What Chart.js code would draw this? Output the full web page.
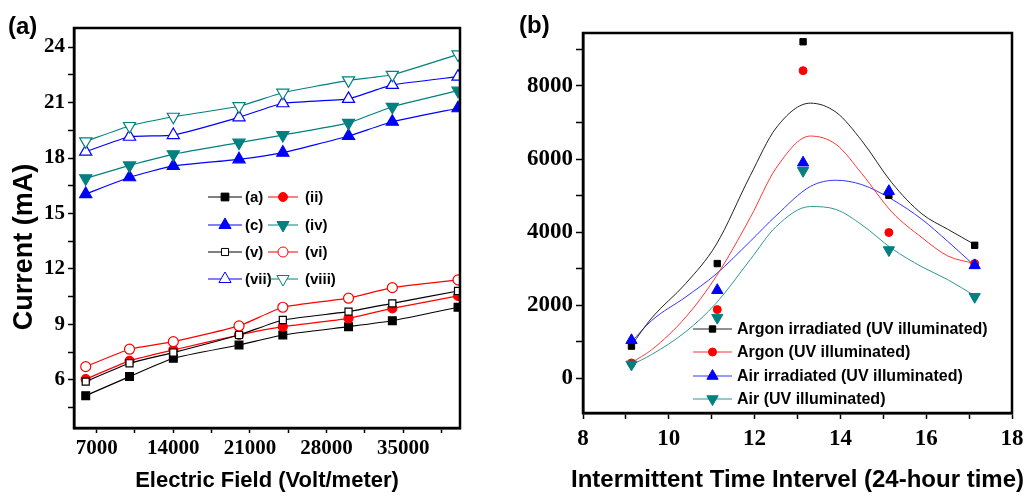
<!DOCTYPE html>
<html lang="en">
<head>
    <meta charset="UTF-8">
    <title>Current vs Electric Field / Intermittent Time Interval</title>
    <script src="https://cdn.jsdelivr.net/npm/chart.js"></script>
    <style>
        body { margin: 0; background: #fff; }
        .wrap { position: relative; width: 1033px; height: 499px; }
        canvas { position: absolute; top: 0; }
    </style>
</head>
<body>
<div class="wrap">
    <canvas id="fieldChart" width="475" height="499" style="left:0"></canvas>
    <canvas id="timeChart" width="518" height="499" style="left:515px"></canvas>
</div>
<script>
// ---- panel (a) data: current (mA) vs electric field (V/m)
const fieldX = [6000, 10000, 14000, 20000, 24000, 30000, 34000, 40000];
const curA    = [5.15, 6.18, 7.17, 7.89, 8.43, 8.88, 9.20, 9.93];
const curII   = [6.04, 7.03, 7.62, 8.43, 8.88, 9.33, 9.87, 10.54];
const curC    = [16.05, 16.96, 17.57, 17.93, 18.29, 19.19, 19.96, 20.69];
const curIV   = [16.9, 17.6, 18.2, 18.83, 19.24, 19.9, 20.77, 21.64];
const curV    = [5.91, 6.9, 7.48, 8.43, 9.24, 9.69, 10.14, 10.81];
const curVI   = [6.72, 7.66, 8.07, 8.92, 9.93, 10.42, 10.99, 11.41];
const curVII  = [18.34, 19.15, 19.24, 20.2, 20.96, 21.2, 21.95, 22.4];
const curVIII = [18.9, 19.73, 20.23, 20.8, 21.53, 22.2, 22.5, 23.6];

// tick positions (majors get labels, the rest are minor marks)
const fieldTicks   = [7000, 10500, 14000, 17500, 21000, 24500, 28000, 31500, 35000, 38500];
const currentTicks = [4.5, 6, 7.5, 9, 10.5, 12, 13.5, 15, 16.5, 18, 19.5, 21, 22.5, 24];

// ---- panel (b) data: measured points and fitted curves vs time of day
const timeX     = [9.13, 11.13, 13.13, 15.13, 17.13];
const argonIrr  = [880, 3140, 9210, 5010, 3640];
const argon     = [420, 1880, 8420, 3990, 3140];
const airIrr    = [1040, 2410, 5900, 5120, 3090];
const air       = [380, 1660, 5680, 3510, 2230];

const fitX         = [9.13, 9.6, 10.4, 11.1, 11.9, 12.5, 13.3, 13.9, 14.5, 15.2, 15.9, 16.5, 17.13];
const fitArgonIrr  = [900, 1650, 2600, 3650, 5550, 6850, 7530, 7280, 6500, 5350, 4500, 4080, 3660];
const fitArgon     = [430, 780, 1680, 2780, 4400, 5750, 6630, 6400, 5600, 4550, 3850, 3350, 3140];
const fitAirIrr    = [1000, 1580, 2230, 2850, 3750, 4450, 5250, 5420, 5300, 4900, 4350, 3750, 3080];
const fitAir       = [370, 650, 1280, 2050, 3250, 4150, 4700, 4620, 4200, 3550, 3050, 2700, 2260];

const timeTicks  = [8, 9, 10, 11, 12, 13, 14, 15, 16, 17, 18];
const countTicks = [0, 1000, 2000, 3000, 4000, 5000, 6000, 7000, 8000, 9000];

const BLACK = '#000000', RED = '#ff0000', BLUE = '#0000ff', TEAL = '#008080';
const SANS = "'Liberation Sans', Arial, sans-serif";
const SERIF = "'Liberation Serif', 'Times New Roman', serif";

function pts(xs, ys) { return xs.map((x, i) => ({ x: x, y: ys[i] })); }
function fixedTicks(values) { return s => { s.ticks = values.map(v => ({ value: v })); }; }

// frame, free texts and an in-plot legend
const extras = {
    id: 'extras',
    afterDraw(chart, args, opts) {
        const ctx = chart.ctx, a = chart.chartArea;
        ctx.save();
        ctx.lineWidth = opts.frameWidth || 2.5;
        ctx.strokeStyle = '#000';
        ctx.strokeRect(a.left, a.top, a.right - a.left, a.bottom - a.top);

        (opts.texts || []).forEach(t => {
            ctx.save();
            ctx.font = t.font;
            ctx.fillStyle = '#000';
            ctx.textAlign = t.align || 'center';
            ctx.textBaseline = 'middle';
            const x = t.x === 'mid' ? (a.left + a.right) / 2 : t.x;
            ctx.translate(x, t.y);
            if (t.rotate) ctx.rotate(t.rotate);
            ctx.fillText(t.text, 0, 0);
            ctx.restore();
        });

        const lg = opts.legend;
        if (lg) {
            lg.items.forEach(it => {
                const line = chart.data.datasets[it.line];
                const mark = chart.data.datasets[it.mark];
                const col = lg.cols[it.col];
                const y = lg.rows[it.row];
                ctx.strokeStyle = line.borderColor;
                ctx.lineWidth = 1;
                ctx.beginPath();
                ctx.moveTo(col.x0, y);
                ctx.lineTo(col.x1, y);
                ctx.stroke();
                ctx.fillStyle = mark.pointBackgroundColor;
                ctx.strokeStyle = mark.pointBorderColor;
                Chart.helpers.drawPoint(ctx, {
                    pointStyle: mark.pointStyle,
                    rotation: mark.pointRotation || 0,
                    radius: mark.pointRadius,
                    borderWidth: mark.pointBorderWidth
                }, (col.x0 + col.x1) / 2, y);
                ctx.fillStyle = '#000';
                ctx.font = lg.font;
                ctx.textAlign = 'left';
                ctx.textBaseline = 'middle';
                ctx.fillText(mark.label, col.tx, y + 1);
            });
        }
        ctx.restore();
    }
};

function fieldSeries(label, ys, color, style, filled, radius, rotation, order) {
    return {
        label: label,
        data: pts(fieldX, ys),
        borderColor: color,
        borderWidth: 1.2,
        tension: 0.15,
        pointStyle: style,
        pointRotation: rotation,
        pointRadius: radius,
        pointBorderWidth: 1.2,
        pointBackgroundColor: filled ? color : '#ffffff',
        pointBorderColor: color,
        order: order
    };
}

new Chart(document.getElementById('fieldChart'), {
    type: 'line',
    data: {
        datasets: [
            fieldSeries('(a)', curA, BLACK, 'rect', true, 5.5, 0, 8),
            fieldSeries('(ii)', curII, RED, 'circle', true, 4.5, 0, 7),
            fieldSeries('(c)', curC, BLUE, 'triangle', true, 7, 0, 6),
            fieldSeries('(iv)', curIV, TEAL, 'triangle', true, 7, 180, 5),
            fieldSeries('(v)', curV, BLACK, 'rect', false, 5, 0, 4),
            fieldSeries('(vi)', curVI, RED, 'circle', false, 5, 0, 3),
            fieldSeries('(vii)', curVII, BLUE, 'triangle', false, 7, 0, 2),
            fieldSeries('(viii)', curVIII, TEAL, 'triangle', false, 7, 180, 1)
        ]
    },
    options: {
        responsive: false,
        animation: false,
        layout: { padding: { top: 28, right: 15, left: 0, bottom: 0 } },
        plugins: {
            legend: { display: false },
            tooltip: { enabled: false },
            extras: {
                frameWidth: 2.5,
                texts: [
                    { text: '(a)', x: 8, y: 27, align: 'left', font: 'bold 24px ' + SANS },
                    { text: 'Current (mA)', x: 25, y: 247, rotate: -Math.PI / 2, font: 'bold 27px ' + SANS },
                    { text: 'Electric Field (Volt/meter)', x: 'mid', y: 481, font: 'bold 22px ' + SANS }
                ],
                legend: {
                    font: 'bold 15px ' + SANS,
                    cols: [{ x0: 208, x1: 242, tx: 245 }, { x0: 268, x1: 298, tx: 305 }],
                    rows: [197, 225, 252, 279],
                    items: [
                        { mark: 0, line: 0, col: 0, row: 0 }, { mark: 1, line: 1, col: 1, row: 0 },
                        { mark: 2, line: 2, col: 0, row: 1 }, { mark: 3, line: 3, col: 1, row: 1 },
                        { mark: 4, line: 4, col: 0, row: 2 }, { mark: 5, line: 5, col: 1, row: 2 },
                        { mark: 6, line: 6, col: 0, row: 3 }, { mark: 7, line: 7, col: 1, row: 3 }
                    ]
                }
            }
        },
        scales: {
            x: {
                type: 'linear',
                min: 4930,
                max: 40180,
                afterBuildTicks: fixedTicks(fieldTicks),
                afterFit: s => { s.height = 71; },
                border: { color: '#000', width: 2.5 },
                grid: { drawOnChartArea: false, tickLength: 5, color: '#000', tickWidth: 1.5 },
                ticks: {
                    autoSkip: false,
                    maxRotation: 0,
                    padding: 3,
                    color: '#000',
                    font: { family: SERIF, size: 21, weight: 'bold' },
                    callback: v => (v % 7000 === 0 ? String(v) : '')
                }
            },
            y: {
                type: 'linear',
                min: 3.4,
                max: 25.03,
                afterBuildTicks: fixedTicks(currentTicks),
                afterFit: s => { s.width = 74; },
                border: { color: '#000', width: 2.5 },
                grid: { drawOnChartArea: false, tickLength: 6, color: '#000', tickWidth: 1.5 },
                ticks: {
                    autoSkip: false,
                    padding: 3,
                    color: '#000',
                    font: { family: SERIF, size: 21, weight: 'bold' },
                    callback: v => (v % 3 === 0 ? String(v) : '')
                }
            }
        }
    },
    plugins: [extras]
});

function markSeries(label, ys, color, style, radius, rotation, order) {
    return {
        label: label,
        data: pts(timeX, ys),
        showLine: false,
        borderColor: color,
        pointStyle: style,
        pointRotation: rotation,
        pointRadius: radius,
        pointBorderWidth: 1,
        pointBackgroundColor: color,
        pointBorderColor: color,
        order: order
    };
}

function fitSeries(ys, color) {
    return {
        label: '',
        data: pts(fitX, ys),
        borderColor: color,
        borderWidth: 1,
        pointRadius: 0,
        cubicInterpolationMode: 'monotone',
        order: 10
    };
}

new Chart(document.getElementById('timeChart'), {
    type: 'line',
    data: {
        datasets: [
            markSeries('Argon irradiated (UV illuminated)', argonIrr, BLACK, 'rect', 4.5, 0, 4),
            markSeries('Argon (UV illuminated)', argon, RED, 'circle', 4, 0, 3),
            markSeries('Air irradiated (UV illuminated)', airIrr, BLUE, 'triangle', 6.5, 0, 1),
            markSeries('Air (UV illuminated)', air, TEAL, 'triangle', 6.5, 180, 2),
            fitSeries(fitArgonIrr, '#222222'),
            fitSeries(fitArgon, '#ff3535'),
            fitSeries(fitAirIrr, '#3535ff'),
            fitSeries(fitAir, '#2f9696')
        ]
    },
    options: {
        responsive: false,
        animation: false,
        layout: { padding: { top: 33, right: 21, left: 0, bottom: 0 } },
        plugins: {
            legend: { display: false },
            tooltip: { enabled: false },
            extras: {
                frameWidth: 2.5,
                texts: [
                    { text: '(b)', x: 4, y: 26, align: 'left', font: 'bold 24px ' + SANS },
                    { text: 'Intermittent Time Intervel (24-hour time)', x: 'mid', y: 480, font: 'bold 24px ' + SANS }
                ],
                legend: {
                    font: 'bold 16px ' + SANS,
                    cols: [{ x0: 178, x1: 217, tx: 222 }],
                    rows: [329, 352, 376, 399],
                    items: [
                        { mark: 0, line: 4, col: 0, row: 0 },
                        { mark: 1, line: 5, col: 0, row: 1 },
                        { mark: 2, line: 6, col: 0, row: 2 },
                        { mark: 3, line: 7, col: 0, row: 3 }
                    ]
                }
            }
        },
        scales: {
            x: {
                type: 'linear',
                min: 8,
                max: 18,
                afterBuildTicks: fixedTicks(timeTicks),
                afterFit: s => { s.height = 86; },
                border: { color: '#000', width: 2.5 },
                grid: { drawOnChartArea: false, tickLength: 6, color: '#000', tickWidth: 1.5 },
                ticks: {
                    autoSkip: false,
                    maxRotation: 0,
                    padding: 6,
                    color: '#000',
                    font: { family: SERIF, size: 23, weight: 'bold' },
                    callback: v => (v % 2 === 0 ? String(v) : '')
                }
            },
            y: {
                type: 'linear',
                min: -950,
                max: 9450,
                afterBuildTicks: fixedTicks(countTicks),
                afterFit: s => { s.width = 68; },
                border: { color: '#000', width: 2.5 },
                grid: { drawOnChartArea: false, tickLength: 7, color: '#000', tickWidth: 1.5 },
                ticks: {
                    autoSkip: false,
                    padding: 3,
                    color: '#000',
                    font: { family: SERIF, size: 23, weight: 'bold' },
                    callback: v => (v % 2000 === 0 ? String(v) : '')
                }
            }
        }
    },
    plugins: [extras]
});
</script>
</body>
</html>
